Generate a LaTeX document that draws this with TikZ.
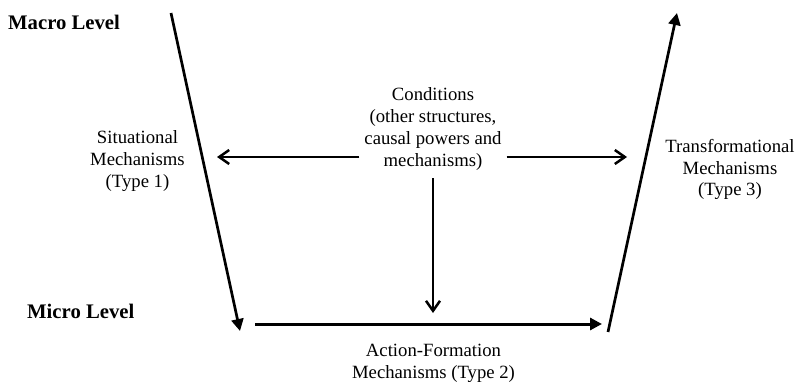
\documentclass[tikz,border=0pt]{standalone}
\usepackage{fontspec}
\setmainfont{Liberation Serif}
\usetikzlibrary{arrows.meta,positioning}

\begin{document}
\begin{tikzpicture}[x=1pt,y=-1pt,
    lvl/.style={font=\fontsize{20.7}{24}\selectfont\bfseries,inner sep=0pt},
    mech/.style={align=center,font=\fontsize{18.7}{21.7}\selectfont,inner sep=0pt},
    cond/.style={align=center,font=\fontsize{18.7}{21.7}\selectfont,inner xsep=5pt,inner ysep=8pt},
    arr/.style={-{Triangle[length=12pt,width=12pt]},line width=2.7pt},
    barb/.style={-{Straight Barb[length=10pt,width=14pt]},line width=2.5pt},
]
\useasboundingbox (0,0) rectangle (798,382);

% Levels
\node[lvl,anchor=base west] (macro) at (8,29.5) {Macro Level};
\node[lvl,anchor=base west] (micro) at (27,318) {Micro Level};

% Mechanism labels
\node[mech] (sit) at (137.5,161) {Situational\\Mechanisms\\(Type 1)};
\node[mech] (trans) at (730,169.5) {Transformational\\Mechanisms\\(Type 3)};
\node[mech] (action) at (433.5,363) {Action-Formation\\Mechanisms (Type 2)};

% Conditions (centre)
\node[cond] (conds) at (433,129) {Conditions\\(other structures,\\causal powers and\\mechanisms)};

% End points
\coordinate (macroL) at (171,13);
\coordinate (microL) at (240,331);
\coordinate (microR) at (608,332);
\coordinate (macroR) at (677,13);
\coordinate (afStart) at (255,324);
\coordinate (afEnd) at (602,324);
\coordinate (sitTip) at (217,157);
\coordinate (transTip) at (627,157);
\coordinate (afHit) at (433,313);

% Arrows
\draw[arr] (macroL) -- (microL);
\draw[arr,line width=3pt] (afStart) -- (afEnd);
\draw[arr] (microR) -- (macroR);
\draw[barb] (conds.west |- sitTip) -- (sitTip);
\draw[barb] (conds.east |- transTip) -- (transTip);
\draw[barb] (conds.south) -- (afHit);
\end{tikzpicture}
\end{document}
